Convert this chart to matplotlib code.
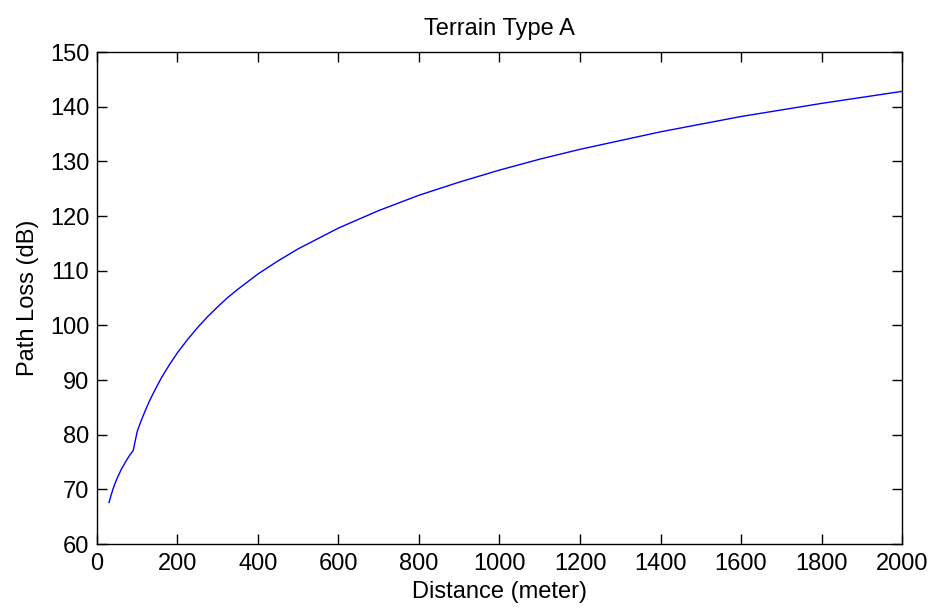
import matplotlib
matplotlib.use("Agg")
import matplotlib.pyplot as plt

# distance (m) and path loss (dB)
distance = [30, 35, 40, 45, 50, 60, 70, 80, 90, 100, 110, 120, 130, 140, 150,
            160, 180, 200, 225, 250, 275, 300, 325, 350, 375, 400, 450, 500,
            600, 700, 800, 900, 1000, 1100, 1200, 1300, 1400, 1500, 1600,
            1700, 1800, 1900, 2000]
path_loss = [67.6, 68.9, 70.1, 71.1, 72.0, 73.6, 74.9, 76.1, 77.1, 80.6, 82.6,
             84.4, 86.1, 87.6, 89.0, 90.4, 92.8, 95.0, 97.4, 99.6, 101.6,
             103.4, 105.1, 106.6, 108.0, 109.4, 111.8, 114.0, 117.8, 121.0,
             123.8, 126.2, 128.4, 130.4, 132.2, 133.8, 135.4, 136.8, 138.2,
             139.4, 140.6, 141.7, 142.8]

xticks = list(range(0, 2001, 200))
yticks = list(range(60, 151, 10))

plt.rcParams['font.family'] = ['Liberation Sans', 'DejaVu Sans']
fs = 17

fig = plt.figure(figsize=(9.36, 6.12), dpi=100)
ax = fig.add_axes([0.1036, 0.1111, 0.8601, 0.8039])
ax.plot(distance, path_loss, color=(0, 0, 1), linewidth=1.0)

ax.set_xlim(0, 2000)
ax.set_ylim(60, 150)
ax.set_xticks(xticks)
ax.set_yticks(yticks)
ax.tick_params(direction='in', length=7, width=1, labelsize=fs,
               top=True, right=True)
ax.tick_params(axis='x', pad=6.5)
ax.tick_params(axis='y', pad=5.5)
for s in ax.spines.values():
    s.set_linewidth(1.0)

ax.set_title('Terrain Type A', fontsize=fs, pad=12.5)
ax.set_xlabel('Distance (meter)', fontsize=fs, labelpad=4.5)
ax.set_ylabel('Path Loss (dB)', fontsize=fs, labelpad=8)

fig.savefig('out.png', dpi=100)
